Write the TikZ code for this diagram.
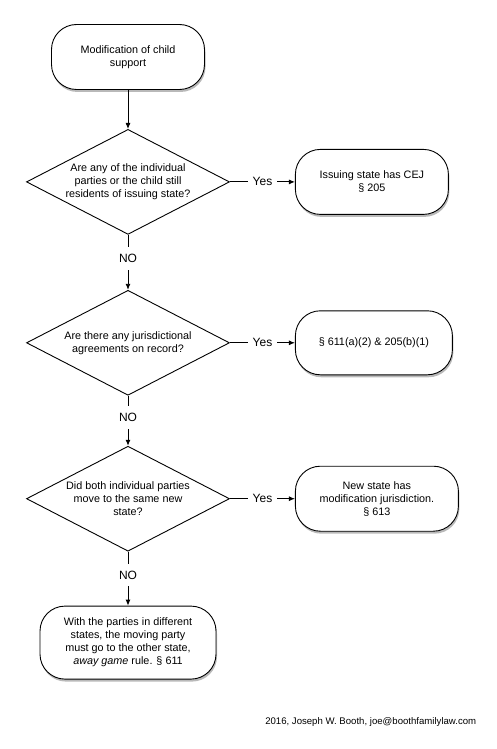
\documentclass[tikz,border=0pt]{standalone}
\usepackage{fontspec}
\setmainfont{Liberation Sans}
\usetikzlibrary{arrows.meta,positioning,shapes.geometric,shadows}

\begin{document}
\begin{tikzpicture}[>={Latex[length=6pt,width=5pt]},node distance=50pt,line width=0.9pt]
        \tikzset{pill/.style={draw,fill=white,rounded corners=25pt,minimum height=65pt,align=center,font=\fontsize{10.8}{13}\selectfont,drop shadow={shadow xshift=1pt,shadow yshift=-2.5pt,opacity=0.55}},
          query/.style={draw,diamond,fill=white,aspect=2,minimum width=203pt,minimum height=105pt,inner sep=0pt,align=center,font=\fontsize{10.8}{13}\selectfont},
          answer/.style={fill=white,inner xsep=5pt,inner ysep=7pt,font=\fontsize{12}{14}\selectfont}}
        \useasboundingbox (0,0) rectangle (497pt,-749pt);
        \node[pill,minimum width=153pt] (start) at (128pt,-57pt) {Modification of child\\support};
        \node[query,below=39pt of start] (resident) {Are any of the individual\\parties or the child still\\residents of issuing state?};
        \node[query,below=55pt of resident] (record) {Are there any jurisdictional\\agreements on record?};
        \node[query,below=of record] (moved) {Did both individual parties\\move to the same new\\state?};
        \node[pill,minimum width=176pt,minimum height=73pt,below=54pt of moved] (away) {With the parties in different\\states, the moving party\\must go to the other state,\\\textit{away game} rule. § 611};
        \node[pill,minimum width=153pt,right=65pt of resident] (cej) {Issuing state has CEJ\\§ 205};
        \node[pill,minimum width=157pt,minimum height=64pt,right=65pt of record] (agree) {§ 611(a)(2) \& 205(b)(1)};
        \node[pill,minimum width=163pt,right=65pt of moved] (newstate) {New state has\\modification jurisdiction.\\§ 613};
        \node[anchor=east,font=\fontsize{9.6}{11}\selectfont] (credit) at (480pt,-722pt) {2016, Joseph W. Booth, joe@boothfamilylaw.com};
        \draw[->] (start) -- (resident);
        \draw[->] (resident) -- node[answer]{Yes} (cej);
        \draw[->] (record) -- node[answer]{Yes} (agree);
        \draw[->] (moved) -- node[answer]{Yes} (newstate);
        \draw[->] (resident) -- node[answer,pos=0.43]{NO} (record);
        \draw[->] (record) -- node[answer,pos=0.43]{NO} (moved);
        \draw[->] (moved) -- node[answer,pos=0.43]{NO} (away);
      \end{tikzpicture}
\end{document}
